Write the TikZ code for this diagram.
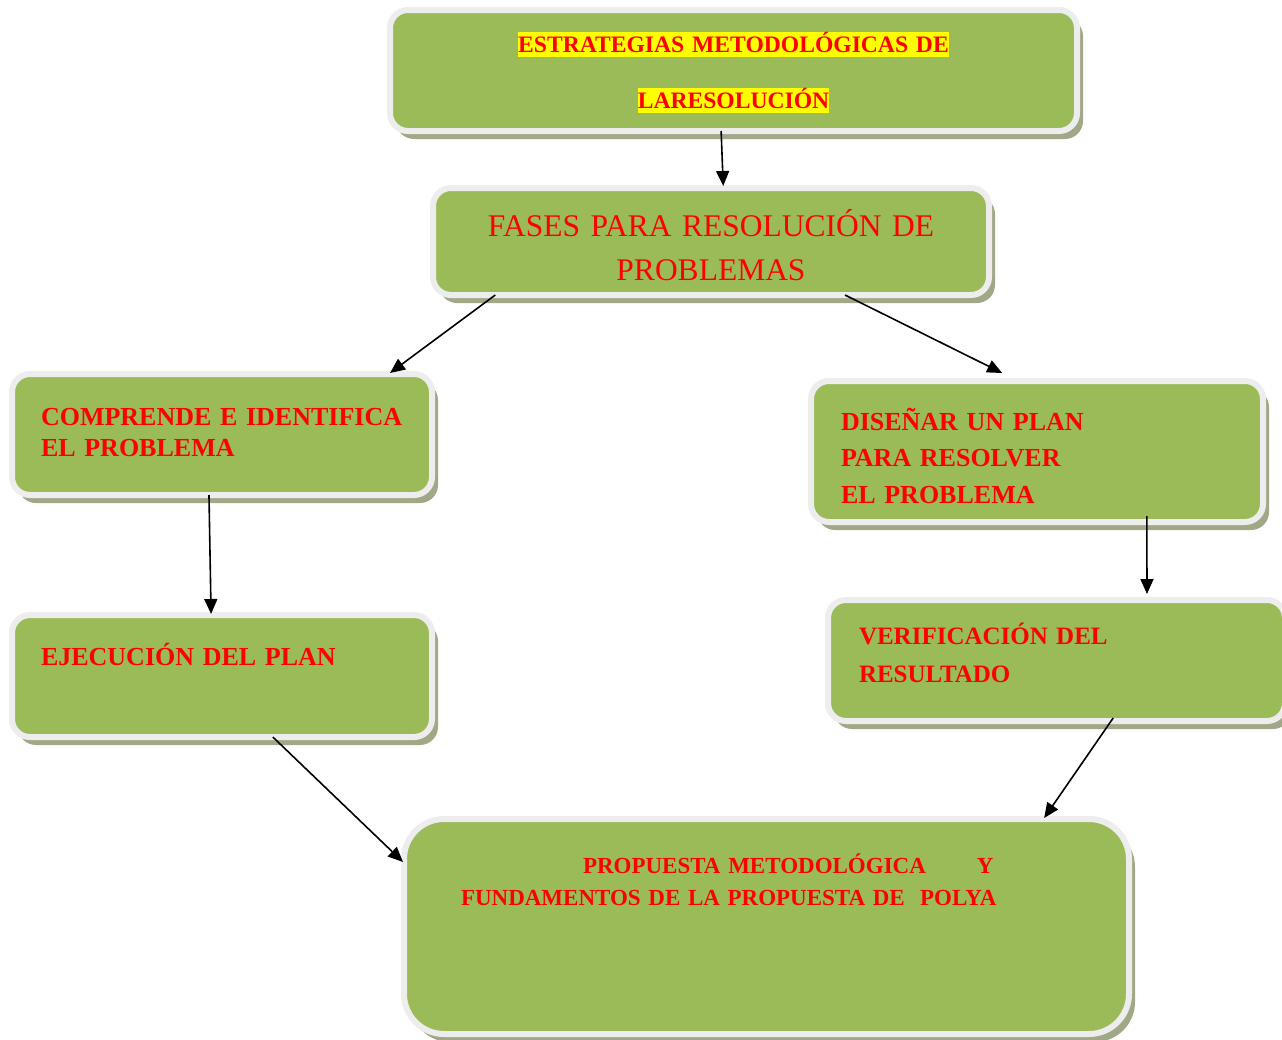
\documentclass[tikz,border=0pt]{standalone}
\usepackage{fontspec}
\setmainfont{Liberation Serif}
\usepackage{xcolor}
\usetikzlibrary{positioning,calc,shadows,arrows.meta}
\definecolor{boxgreen}{HTML}{9BBB59}
\definecolor{boxrim}{HTML}{EDEDED}
\definecolor{boxshadow}{RGB}{160,168,136}
\definecolor{marcador}{HTML}{FFFF00}
\newcommand{\resaltar}[1]{{\setlength{\fboxsep}{0pt}\colorbox{marcador}{\rule[-5pt]{0pt}{24pt}#1}}}
\tikzset{
  fase/.style={rectangle,rounded corners=18pt,draw=boxrim,line width=6pt,fill=boxgreen,
    drop shadow={shadow xshift=6pt,shadow yshift=-8pt,fill=boxshadow,draw=none,opacity=1},
    text=red,inner sep=0pt,outer sep=0pt,align=left},
  flecha/.style={-{Triangle[length=15pt,width=13pt]},line width=1.6pt}
}
\begin{document}
\begin{tikzpicture}[x=1pt,y=-1pt]
\useasboundingbox (0,0) rectangle (1282,1039);
% cajas
\node[fase,minimum width=687pt,minimum height=121pt,text width=687pt,align=center,
  font=\fontsize{23.6}{56}\selectfont\bfseries,text height=20pt,text depth=57pt]
  (estr) at (733.5,70.5) {\resaltar{ESTRATEGIAS METODOLÓGICAS DE}\\\resaltar{LARESOLUCIÓN}};
\node[fase,minimum width=556pt,minimum height=107pt,text width=552pt,align=center,
  font=\fontsize{31.5}{44}\selectfont,text height=20pt,text depth=31pt]
  (fases) at (711,241.5) {FASES PARA RESOLUCIÓN DE\\PROBLEMAS};
\node[fase,minimum width=420pt,minimum height=121pt,text width=362pt,
  font=\fontsize{26}{31}\selectfont\bfseries,text height=20pt,text depth=39pt]
  (comp) at (222,434.5) {COMPRENDE E IDENTIFICA\\EL PROBLEMA};
\node[fase,minimum width=452pt,minimum height=141pt,text width=392pt,
  font=\fontsize{26}{36.5}\selectfont\bfseries,text height=20pt,text depth=63pt]
  (dis) at (1037,451.5) {DISEÑAR UN PLAN\\PARA RESOLVER\\EL PROBLEMA};
\node[fase,minimum width=420pt,minimum height=122pt,text width=362pt,
  font=\fontsize{26}{31}\selectfont\bfseries,text height=20pt,text depth=42pt]
  (ejec) at (222,676) {EJECUCIÓN DEL PLAN};
\node[fase,minimum width=457pt,minimum height=121pt,text width=395pt,
  font=\fontsize{25}{38}\selectfont\bfseries,text height=20pt,text depth=53pt]
  (verif) at (1056.5,660.5) {VERIFICACIÓN DEL\\RESULTADO};
\node[fase,rounded corners=40pt,minimum width=725pt,minimum height=215pt,text width=611pt,
  font=\fontsize{23}{32}\selectfont\bfseries,text height=20pt,text depth=127pt]
  (prop) at (766.5,926.5) {\hspace*{122pt}PROPUESTA METODOLÓGICA\hspace{51pt}Y\\FUNDAMENTOS DE LA PROPUESTA DE\ \ POLYA};
% flechas
\draw[flecha] ($(estr.south west)!.482!(estr.south east)$) -- ($(fases.north west)!.522!(fases.north east)+(0,-2)$);
\draw[flecha] ($(fases.south west)!.112!(fases.south east)$) -- ($(comp.north west)!.9!(comp.north east)+(0,-1)$);
\draw[flecha] ($(fases.south west)!.741!(fases.south east)$) -- ($(dis.north west)!.423!(dis.north east)+(0,-8)$);
\draw[flecha] ($(comp.south west)!.469!(comp.south east)$) -- ($(ejec.north west)!.474!(ejec.north east)+(0,-1)$);
\draw[flecha] ($(dis.south west)!.743!(dis.south east)+(0,-6)$) -- ($(verif.north west)!.698!(verif.north east)+(0,-6)$);
\draw[flecha] ($(ejec.south west)!.621!(ejec.south east)$) -- ($(prop.north west)!.2!(prop.south west)+(-1,0)$);
\draw[flecha] ($(verif.south west)!.624!(verif.south east)+(0,-3)$) -- ($(prop.north west)!.883!(prop.north east)+(0,-1)$);
\end{tikzpicture}
\end{document}
